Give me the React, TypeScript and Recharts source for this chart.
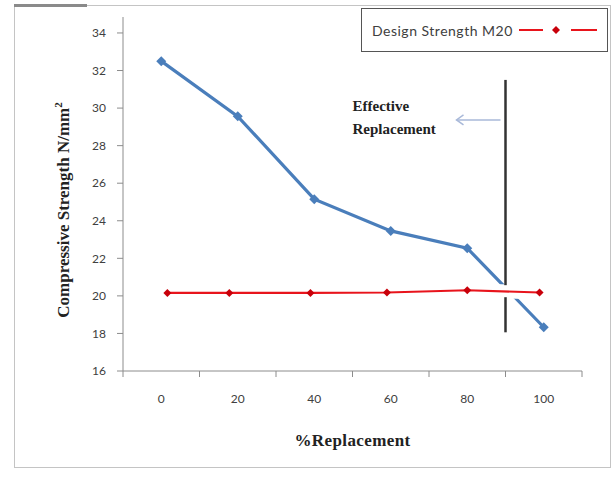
import { Legend, Line, LineChart, ReferenceLine, XAxis, YAxis } from 'recharts';

// % replacement and measured compressive strength (N/mm2)
const replacement = [0, 20, 40, 60, 80, 100];
const strength = [32.5, 29.56, 25.15, 23.46, 22.54, 18.33];

// design strength M20 line, markers sit slightly off the categories in the original
const designX = [1.6, 17.8, 39, 59, 80, 98.9];
const designY = [20.16, 20.16, 20.16, 20.18, 20.3, 20.18];

const yTicks = [16, 18, 20, 22, 24, 26, 28, 30, 32, 34];
const xTicks = [0, 20, 40, 60, 80, 100];
const categoryEdges = [-10, 10, 30, 50, 70, 90, 110];

// vertical "effective replacement" marker, broken where it crosses the M20 line
const effectiveAt = 90;
const effectiveLower = [18.06, 19.93];
const effectiveUpper = [20.57, 31.5];

const BLUE = '#4a7ebb';
const RED = '#e8141c';
const SERIF = '"Liberation Serif", "Times New Roman", serif';
const SANS = 'Lato, "Liberation Sans", sans-serif';
const LEGEND_NAME = 'Design Strength M20';

const mainData = replacement.map((x, i) => ({ x, strength: strength[i] }));
const designData = designX.map((x, i) => ({ x, design: designY[i] }));

const BlueDot = (props: any) => {
  const { cx, cy } = props;
  if (cx == null || cy == null) return null;
  return <path d={`M${cx},${cy - 5} L${cx + 5},${cy} L${cx},${cy + 5} L${cx - 5},${cy} Z`} fill={BLUE} />;
};

const RedDot = (props: any) => {
  const { cx, cy } = props;
  if (cx == null || cy == null) return null;
  return <path d={`M${cx},${cy - 4} L${cx + 4},${cy} L${cx},${cy + 4} L${cx - 4},${cy} Z`} fill="#c8000a" />;
};

const YTitle = (props: any) => {
  const vb = props.viewBox || {};
  const cx = vb.x + 69;
  const cy = vb.y + vb.height / 2 + 16;
  return (
    <text
      x={cx}
      y={cy}
      transform={`rotate(-90 ${cx} ${cy})`}
      textAnchor="middle"
      fontFamily={SERIF}
      fontWeight="bold"
      fontSize={17}
      fill="#222"
    >
      Compressive Strength N/mm<tspan fontSize={11} dy={-7}>2</tspan>
    </text>
  );
};

const XTitle = (props: any) => {
  const vb = props.viewBox || {};
  return (
    <text
      x={vb.x + vb.width / 2}
      y={vb.y + 75}
      textAnchor="middle"
      fontFamily={SERIF}
      fontWeight="bold"
      fontSize={17}
      letterSpacing={0.4}
      fill="#222"
    >
      %Replacement
    </text>
  );
};

const EffectiveNote = (props: any) => {
  const vb = props.viewBox || {};
  const x = vb.x;
  const y = vb.y;
  return (
    <g>
      <text x={x - 153} y={y + 31} fontFamily={SERIF} fontWeight="bold" fontSize={15} fill="#222">
        Effective
      </text>
      <text x={x - 153} y={y + 54} fontFamily={SERIF} fontWeight="bold" fontSize={15} fill="#222">
        Replacement
      </text>
      <line x1={x - 5} y1={y + 40} x2={x - 49} y2={y + 40} stroke="#a9b9d9" strokeWidth={1.5} />
      <polyline
        points={`${x - 42},${y + 35} ${x - 49},${y + 40} ${x - 42},${y + 45}`}
        fill="none"
        stroke="#a9b9d9"
        strokeWidth={1.5}
      />
    </g>
  );
};

const LegendBox = (props: any) => {
  const items = (props.payload || []).filter((p: any) => p.value === LEGEND_NAME);
  return (
    <div
      style={{
        boxSizing: 'border-box',
        width: 247,
        height: 44,
        border: '1.5px solid #555',
        background: '#fff',
        display: 'flex',
        alignItems: 'center',
        paddingLeft: 10,
      }}
    >
      {items.map((item: any) => (
        <div key={item.value} style={{ display: 'flex', alignItems: 'center' }}>
          <span style={{ fontFamily: SANS, fontSize: 14, letterSpacing: 0.5, color: '#404040' }}>{item.value}</span>
          <svg width={82} height={14} style={{ marginLeft: 4 }}>
            <line x1={2} y1={7} x2={26} y2={7} stroke={RED} strokeWidth={2} />
            <path d="M39,3 L43,7 L39,11 L35,7 Z" fill="#c8000a" />
            <line x1={54} y1={7} x2={80} y2={7} stroke={RED} strokeWidth={2} />
          </svg>
        </div>
      ))}
    </div>
  );
};

export default function App() {
  return (
    <div style={{ position: 'absolute', left: 0, top: 0, width: 616, height: 490, background: '#fff' }}>
      <div
        style={{
          position: 'absolute',
          left: 14,
          top: 5,
          width: 595,
          height: 461,
          border: '1px solid #c4c4c4',
        }}
      />
      <div style={{ position: 'absolute', left: 14, top: 4, width: 73, height: 3, background: '#8a8a8a' }} />
      <div style={{ position: 'absolute', left: 0, top: 0 }}>
        <LineChart width={616} height={490} data={mainData} margin={{ top: 17, right: 34, bottom: 79, left: 0 }}>
          <XAxis
            dataKey="x"
            type="number"
            domain={[-10, 110]}
            ticks={xTicks}
            allowDataOverflow
            height={40}
            tickSize={6}
            tickLine={false}
            tickMargin={17}
            axisLine={{ stroke: '#8c8c8c' }}
            tick={{ fontFamily: SANS, fontSize: 12, fill: '#404040' }}
            label={<XTitle />}
          />
          <YAxis
            type="number"
            domain={[16, 34.85]}
            ticks={yTicks}
            allowDataOverflow
            width={123}
            tickSize={6}
            tickMargin={11}
            axisLine={{ stroke: '#8c8c8c' }}
            tickLine={{ stroke: '#8c8c8c' }}
            tick={{ fontFamily: SANS, fontSize: 12, fill: '#404040' }}
            label={<YTitle />}
          />
          {categoryEdges.map((e) => (
            <ReferenceLine
              key={e}
              segment={[
                { x: e, y: 16 },
                { x: e, y: 15.68 },
              ]}
              ifOverflow="visible"
              stroke="#8c8c8c"
            />
          ))}
          <Line
            dataKey="strength"
            name="Compressive Strength"
            stroke={BLUE}
            strokeWidth={3.2}
            dot={<BlueDot />}
            activeDot={false}
            isAnimationActive={false}
            legendType="none"
          />
          <Line
            data={designData}
            dataKey="design"
            name="halo"
            stroke="#fff"
            strokeWidth={14}
            dot={false}
            activeDot={false}
            isAnimationActive={false}
            legendType="none"
          />
          <Line
            data={designData}
            dataKey="design"
            name={LEGEND_NAME}
            stroke={RED}
            strokeWidth={2.2}
            dot={<RedDot />}
            activeDot={false}
            isAnimationActive={false}
          />
          <ReferenceLine
            segment={[
              { x: effectiveAt, y: effectiveLower[0] },
              { x: effectiveAt, y: effectiveLower[1] },
            ]}
            stroke="#333"
            strokeWidth={2.5}
          />
          <ReferenceLine
            segment={[
              { x: effectiveAt, y: effectiveUpper[0] },
              { x: effectiveAt, y: effectiveUpper[1] },
            ]}
            stroke="#333"
            strokeWidth={2.5}
            label={<EffectiveNote />}
          />
          <Legend
            layout="horizontal"
            verticalAlign="middle"
            align="center"
            content={<LegendBox />}
            wrapperStyle={{ left: 361, top: 8, width: 247, height: 44 }}
          />
        </LineChart>
      </div>
    </div>
  );
}
